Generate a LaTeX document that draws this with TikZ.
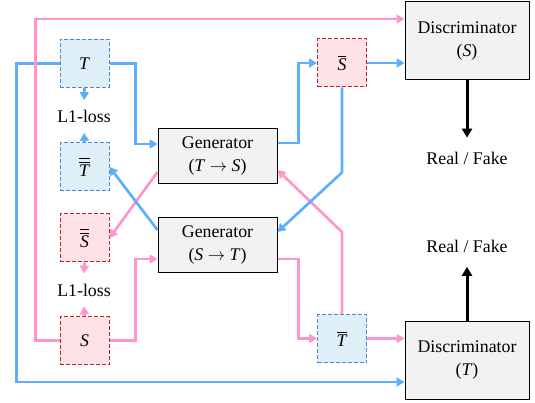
\documentclass[tikz,border=0pt]{standalone}
\usepackage{amssymb,amsmath}
\usepackage{xcolor}
\usepackage{fontspec}
\setmainfont{Liberation Serif}
\usetikzlibrary{arrows.meta}
\definecolor{lineblue}{RGB}{92,174,255}
\definecolor{linepink}{RGB}{255,150,202}
\definecolor{tfill}{RGB}{222,239,248}
\definecolor{tline}{RGB}{84,132,212}
\definecolor{sfill}{RGB}{253,227,230}
\definecolor{sline}{RGB}{194,32,44}
\definecolor{boxfill}{RGB}{242,242,242}

\begin{document}
\begin{tikzpicture}[x=1pt,y=-1pt,
  every node/.style={font=\fontsize{17.8}{23}\selectfont},
  tbox/.style={draw=tline,fill=tfill,dash pattern=on 4pt off 2pt,line width=1pt,minimum width=49pt,minimum height=48pt,inner sep=0pt},
  sbox/.style={draw=sline,fill=sfill,dash pattern=on 4pt off 2pt,line width=1pt,minimum width=49pt,minimum height=48pt,inner sep=0pt},
  genbox/.style={draw,fill=boxfill,line width=1pt,minimum width=119pt,minimum height=55pt,align=center,inner sep=0pt},
  discbox/.style={draw,fill=boxfill,line width=1pt,minimum width=124pt,minimum height=78pt,align=center,inner sep=0pt},
  lossnode/.style={inner sep=10pt,text depth=0pt},
  rfnode/.style={inner sep=14pt,text depth=0pt},
  bl/.style={draw=lineblue,line width=2.7pt,-{Triangle[length=8pt,width=9pt]}},
  pk/.style={draw=linepink,line width=2.7pt,-{Triangle[length=8pt,width=9pt]}},
  blk/.style={draw=black,line width=3pt,-{Triangle[length=9pt,width=10pt]}}]
    \useasboundingbox (0,0) rectangle (535,403);
      \node[tbox] (t) at (84.5,63.5) {\textit{T}};
      \node[lossnode] (l1a) at (84,116.5) {L1-loss};
      \node[tbox] (tbb) at (84.5,167) {$\overline{\overline{\mbox{\textit{T}}}}$};
      \node[sbox] (sbb) at (84.5,238) {$\overline{\overline{\mbox{\textit{S}}}}$};
      \node[lossnode] (l1b) at (84,290) {L1-loss};
      \node[sbox] (s) at (84.5,340.5) {\textit{S}};
      \node[genbox] (gts) at (217.5,156.5) {Generator\\(\textit{T} $\rightarrow$ \textit{S})};
      \node[genbox] (gst) at (217.5,245) {Generator\\(\textit{S} $\rightarrow$ \textit{T})};
      \node[sbox] (sb) at (342,63) {$\overline{\mbox{\textit{S}}}$};
      \node[tbox] (tb) at (342,338.5) {$\overline{\mbox{\textit{T}}}$};
      \node[discbox] (ds) at (467,41) {Discriminator\\(\textit{S})};
      \node[discbox] (dt) at (467,360) {Discriminator\\(\textit{T})};
      \node[rfnode] (rfs) at (467,158) {Real / Fake};
      \node[rfnode] (rft) at (467,246.5) {Real / Fake};
    \draw[bl] (t.west) -- ++(-43,0) |- ([yshift=-22pt]dt.west);
    \draw[pk] (s.west) -- ++(-24,0) |- ([yshift=22pt]ds.west);
    \draw[pk] (s.east) -- ++(26,0) |- ([yshift=-14pt]gst.west);
    \draw[pk] ([yshift=-14pt]gst.east) -- ++(21,0) |- (tb.west);
    \draw[pk] (tb.east) -- (tb.east -| dt.west);
    \draw[pk] (tb.north) -- ++(0,-82) -- ([yshift=-13.5pt]gts.east);
    \draw[pk] ([yshift=-15.5pt]gts.west) -- (sbb.east);
    \draw[bl] (t.east) -- ++(26,0) |- ([yshift=12.5pt]gts.west);
    \draw[bl] ([yshift=13.5pt]gts.east) -- ++(21,0) |- (sb.west);
    \draw[bl] (sb.east) -- (sb.east -| ds.west);
    \draw[bl] (sb.south) -- ++(0,85) -- ([yshift=13pt]gst.east);
    \draw[bl] ([yshift=15pt]gst.west) -- (tbb.east);
    \foreach \from/\to/\st in {t.south/l1a.north/bl, tbb.north/l1a.south/bl, sbb.south/l1b.north/pk, s.north/l1b.south/pk}
      \draw[\st] (\from) -- (\to);
    \draw[blk] (ds.south) -- (rfs.north);
    \draw[blk] (dt.north) -- (rft.south);
\end{tikzpicture}
\end{document}
